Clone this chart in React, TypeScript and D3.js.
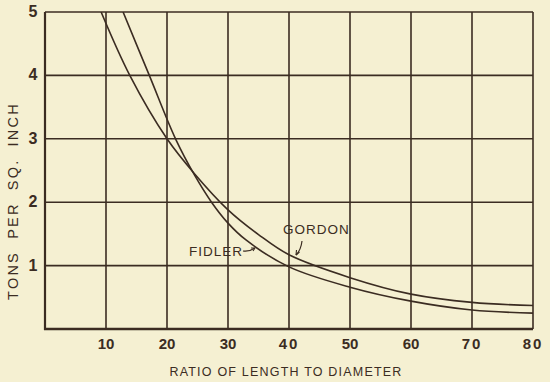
import React from "react";
import * as d3 from "d3";

const xTicks = [10, 20, 30, 40, 50, 60, 70, 80];
const yTicks = [1, 2, 3, 4, 5];

const gordonX = [9.2, 13.9, 20, 24.5, 30, 35, 40, 50, 60, 70, 80];
const gordonY = [5.0, 4.0, 3.0, 2.45, 1.88, 1.49, 1.17, 0.81, 0.55, 0.42, 0.37];

const fidlerX = [12.8, 17.1, 21.4, 24.5, 27.3, 30, 33, 40, 50, 60, 70, 80];
const fidlerY = [5.0, 4.0, 3.0, 2.43, 2.0, 1.67, 1.4, 0.98, 0.66, 0.44, 0.3, 0.25];

const W = 550;
const H = 382;
const ink = "#3b2c22";

export default function App() {
  const x = d3.scaleLinear().domain([0, 80]).range([45, 533]);
  const y = d3.scaleLinear().domain([0, 5]).range([329, 12]);

  const line = d3
    .line<[number, number]>()
    .x((d) => x(d[0]))
    .y((d) => y(d[1]))
    .curve(d3.curveCatmullRom.alpha(0.5));

  const gordon = gordonX.map((v, i) => [v, gordonY[i]] as [number, number]);
  const fidler = fidlerX.map((v, i) => [v, fidlerY[i]] as [number, number]);

  return (
    <svg
      width={W}
      height={H}
      style={{ position: "absolute", left: 0, top: 0 }}
      fontFamily="'Liberation Sans', Arial, sans-serif"
    >
      <rect width={W} height={H} fill="#f5f0d2" />
      <defs>
        <clipPath id="plot">
          <rect x={x(0)} y={y(5)} width={x(80) - x(0)} height={y(0) - y(5)} />
        </clipPath>
      </defs>
      {xTicks.map((t) => (
        <line key={"gx" + t} x1={x(t)} x2={x(t)} y1={y(0)} y2={y(5)} stroke={ink} strokeWidth={1.6} />
      ))}
      {yTicks.map((t) => (
        <line key={"gy" + t} x1={x(0)} x2={x(80)} y1={y(t)} y2={y(t)} stroke={ink} strokeWidth={1.6} />
      ))}
      <line x1={x(0)} x2={x(0)} y1={y(0) + 1} y2={y(5)} stroke={ink} strokeWidth={2.2} />
      <line x1={x(0) - 1} x2={x(80)} y1={y(0)} y2={y(0)} stroke={ink} strokeWidth={2.4} />
      <g clipPath="url(#plot)" fill="none" stroke={ink} strokeWidth={1.6}>
        <path d={line(gordon) || ""} />
        <path d={line(fidler) || ""} />
      </g>
      {xTicks.map((t) => (
        <text
          key={"tx" + t}
          x={x(t)}
          y={y(0) + 20}
          textAnchor="middle"
          fontSize={15}
          fontWeight="bold"
          letterSpacing={t === 40 || t === 70 || t === 80 ? 2 : 0}
          fill={ink}
        >
          {t}
        </text>
      ))}
      {yTicks.map((t) => (
        <text
          key={"ty" + t}
          x={33}
          y={y(t) + 5}
          textAnchor="middle"
          fontSize={16}
          fontWeight="bold"
          fill={ink}
        >
          {t}
        </text>
      ))}
      <text x={286} y={376} textAnchor="middle" fontSize={12.5} letterSpacing={1.2} fill={ink}>
        RATIO OF LENGTH TO DIAMETER
      </text>
      <text
        transform="translate(18,201) rotate(-90)"
        textAnchor="middle"
        fontSize={14.5}
        letterSpacing={2.2}
        wordSpacing={6}
        fill={ink}
      >
        TONS PER SQ. INCH
      </text>
      <text x={283} y={234} fontSize={13.5} letterSpacing={1} fill={ink}>
        GORDON
      </text>
      <path d="M302,241 Q301,250 296,255" fill="none" stroke={ink} strokeWidth={1.2} />
      <path d="M296,255 l0.5,-5 M296,255 l3.5,-3" fill="none" stroke={ink} strokeWidth={1.1} />
      <text x={189} y={256} fontSize={13.5} letterSpacing={1} fill={ink}>
        FIDLER
      </text>
      <path d="M243,251 Q249,252 255,248" fill="none" stroke={ink} strokeWidth={1.2} />
      <path d="M255,248 l-4,0 M255,248 l-2,3" fill="none" stroke={ink} strokeWidth={1.1} />
    </svg>
  );
}
